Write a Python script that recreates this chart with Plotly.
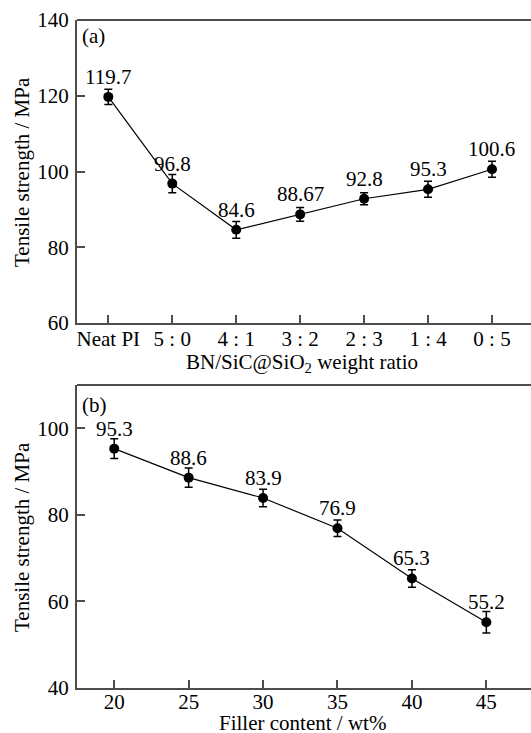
import plotly.graph_objects as go

# ---- data ----
ratio_labels = ["Neat PI", "5 : 0", "4 : 1", "3 : 2", "2 : 3", "1 : 4", "0 : 5"]
strength_a = [119.7, 96.8, 84.6, 88.67, 92.8, 95.3, 100.6]
strength_a_text = ["119.7", "96.8", "84.6", "88.67", "92.8", "95.3", "100.6"]
err_a = [2.0, 2.4, 2.2, 1.8, 1.6, 2.1, 2.1]

filler = [20, 25, 30, 35, 40, 45]
strength_b = [95.3, 88.6, 83.9, 76.9, 65.3, 55.2]
strength_b_text = ["95.3", "88.6", "83.9", "76.9", "65.3", "55.2"]
err_b = [2.3, 2.2, 2.0, 1.9, 2.0, 2.5]

FONT = "Liberation Serif"
FS = 21
W, H = 531, 733
ML = 77
PW = W - ML
AX = "#4d4d4d"

def py(px):
    return 1 - px / H

def px_(x):
    return (x - ML) / PW

def dom(top_px, bot_px):
    return [py(bot_px), py(top_px)]

fig = go.Figure()
idx = list(range(len(ratio_labels)))

fig.add_trace(go.Scatter(
    x=idx, y=strength_a, mode="lines+markers",
    line=dict(color="black", width=1.2),
    marker=dict(color="black", size=10),
    error_y=dict(type="data", array=err_a, color="black", thickness=1.5, width=4),
    xaxis="x", yaxis="y", showlegend=False, cliponaxis=False))

fig.add_trace(go.Scatter(
    x=filler, y=strength_b, mode="lines+markers",
    line=dict(color="black", width=1.2),
    marker=dict(color="black", size=10),
    error_y=dict(type="data", array=err_b, color="black", thickness=1.5, width=4),
    xaxis="x2", yaxis="y2", showlegend=False, cliponaxis=False))

tf = dict(size=FS, family=FONT, color="black")
annotations = []
for i, (v, t) in enumerate(zip(strength_a, strength_a_text)):
    annotations.append(dict(x=i, y=v, xref="x", yref="y", text=t, showarrow=False,
                            yanchor="bottom", yshift=6, font=tf))
for xv, v, t in zip(filler, strength_b, strength_b_text):
    annotations.append(dict(x=xv, y=v, xref="x2", yref="y2", text=t, showarrow=False,
                            yanchor="bottom", yshift=6, font=tf))
# panel labels
annotations.append(dict(x=px_(80), y=py(36), xref="paper", yref="paper", text="(a)", showarrow=False,
                        xanchor="left", yanchor="middle", font=tf))
annotations.append(dict(x=px_(80), y=py(405), xref="paper", yref="paper", text="(b)", showarrow=False,
                        xanchor="left", yanchor="middle", font=tf))
# axis titles
annotations.append(dict(x=px_(302), y=py(363), xref="paper", yref="paper",
                        text="BN/SiC@SiO<sub>2</sub> weight ratio", showarrow=False,
                        xanchor="center", yanchor="middle", font=tf))
annotations.append(dict(x=px_(302), y=py(723), xref="paper", yref="paper",
                        text="Filler content / wt%", showarrow=False,
                        xanchor="center", yanchor="middle", font=tf))
annotations.append(dict(x=px_(22), y=py(172), xref="paper", yref="paper",
                        text="Tensile strength / MPa", showarrow=False, textangle=-90,
                        xanchor="center", yanchor="middle", font=tf))
annotations.append(dict(x=px_(22), y=py(537), xref="paper", yref="paper",
                        text="Tensile strength / MPa", showarrow=False, textangle=-90,
                        xanchor="center", yanchor="middle", font=tf))

axis_common = dict(showline=True, linecolor=AX, linewidth=2, ticks="inside", tickcolor=AX,
                   ticklen=8, tickwidth=1.5, showgrid=False, zeroline=False, automargin=False,
                   tickfont=tf)

fig.update_layout(
    width=W, height=H,
    margin=dict(l=ML, r=0, t=0, b=0),
    plot_bgcolor="white", paper_bgcolor="white",
    annotations=annotations,
    xaxis=dict(axis_common, domain=[0, 1], anchor="y", range=[-0.49, 6.61],
               tickmode="array", tickvals=idx, ticktext=ratio_labels, ticklabelstandoff=-4),
    yaxis=dict(axis_common, domain=dom(20, 323), anchor="x", range=[60, 140],
               tickvals=[60, 80, 100, 120, 140], ticklabelstandoff=2),
    xaxis2=dict(axis_common, domain=[0, 1], anchor="y2", range=[17.5, 48],
                tickvals=filler, ticklabelstandoff=-6),
    yaxis2=dict(axis_common, domain=dom(385, 688), anchor="x2", range=[40, 110],
                tickvals=[40, 60, 80, 100], ticklabelstandoff=2),
    shapes=[
        dict(type="line", xref="paper", yref="paper", x0=0, x1=1.02, y0=py(20), y1=py(20),
             line=dict(color=AX, width=2)),
        dict(type="line", xref="paper", yref="paper", x0=0, x1=1.02, y0=py(385), y1=py(385),
             line=dict(color=AX, width=2)),
    ],
)

fig.write_html("out.html", config={"displayModeBar": False},
               post_script="document.body.style.margin='0';")
